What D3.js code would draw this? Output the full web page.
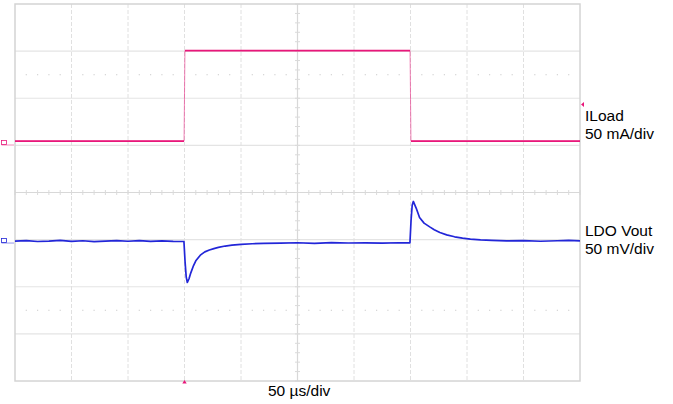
<!DOCTYPE html>
<html>
<head>
<meta charset="utf-8">
<script src="https://cdn.jsdelivr.net/npm/d3@7"></script>
<style>
  body { margin: 0; background: #fff; }
  svg { display: block; font-family: "Liberation Sans", Arial, sans-serif; }
</style>
</head>
<body>
<svg id="chart"></svg>
<script>
// time axis: 50 us/div, 10 divisions
const timeDomain = [0, 500];
const divDomain = [-4, 4];

// ILoad trace (mA), 50 mA/div
const iloadTime = [0, 149.6, 150.4, 349.6, 350.4, 500];
const iloadVal  = [2, 2, 98, 98, 2, 2];
const iloadOffsetDiv = 1.05;
const iloadPerDiv = 50;
const iloadTrigger = 41;

// LDO Vout trace (mV, ac coupled), 50 mV/div
const voutTime = [0, 10, 20, 30, 40, 50, 60, 70, 80, 90, 100, 110, 120, 130, 140, 149.5,
  150.5, 151.5, 152.5, 154, 155.5, 158, 160, 164, 168, 172, 176, 180, 186, 192, 200, 210, 220, 235, 250,
  265, 280, 295, 310, 325, 340, 349.5,
  350.5, 351.5, 352.5, 355, 358, 362, 367, 371, 376, 382, 389, 396, 403, 412, 422, 435, 450, 465, 480, 490, 500];
const voutVal = [0, 0.5, -0.5, 0, 0.8, -0.3, 0.3, -0.6, 0, 0.4, -0.2, 0.5, -0.4, 0.2, -0.3, -0.5,
  -22, -38, -44, -40, -34, -26, -21, -15, -11.5, -9.5, -8, -6.8, -5.3, -4.4, -3.5, -2.9, -2.4, -2.2, -1.8,
  -2.4, -1.6, -2.1, -1.9, -2.3, -1.8, -2,
  22, 38, 42, 35, 25, 19, 15, 12, 9, 6.5, 4.5, 3, 2, 1.2, 0.8, 0.2, 0.5, -0.2, 0.3, 0.6, 0.2];
const voutOffsetDiv = -1.03;
const voutPerDiv = 50;

const labels = [
  { lines: ["ILoad", "50 mA/div"], y: 121 },
  { lines: ["LDO Vout", "50 mV/div"], y: 235.5 }
];
const timeLabel = "50 µs/div";

const width = 673, height = 404;
const margin = { top: 4, right: 93, bottom: 23, left: 15 };

const svg = d3.select("#chart").attr("width", width).attr("height", height);

const x = d3.scaleLinear().domain(timeDomain).range([margin.left, width - margin.right]);
const y = d3.scaleLinear().domain(divDomain).range([height - margin.bottom, margin.top]);

const grid = svg.append("g");

// horizontal division lines
grid.selectAll(".hline")
    .data(d3.range(-3, 4).filter(d => d !== 0))
    .enter().append("line")
    .attr("x1", x(0)).attr("x2", x(500))
    .attr("y1", d => y(d)).attr("y2", d => y(d))
    .attr("stroke", "#e4e4e4").attr("stroke-width", 1.2);

// vertical division lines (dashed)
grid.selectAll(".vline")
    .data(d3.range(50, 500, 50).filter(d => d !== 250))
    .enter().append("line")
    .attr("x1", d => x(d)).attr("x2", d => x(d))
    .attr("y1", y(4)).attr("y2", y(-4))
    .attr("stroke", "#e0e0e0").attr("stroke-width", 1)
    .attr("stroke-dasharray", "4,2");

// dotted rows at +/-2.5 div
[2.5, -2.5].forEach(r => {
    grid.selectAll(null)
        .data(d3.range(0, 500.1, 10).filter(t => t % 50 !== 0))
        .enter().append("rect")
        .attr("x", t => x(t) - 0.6).attr("y", y(r) - 0.6)
        .attr("width", 1.2).attr("height", 1.2)
        .attr("fill", "#d4d4d4");
});

// center crosshair with minor ticks
grid.append("line")
    .attr("x1", x(0)).attr("x2", x(500)).attr("y1", y(0)).attr("y2", y(0))
    .attr("stroke", "#d8d8d8").attr("stroke-width", 1.2);
grid.append("line")
    .attr("x1", x(250)).attr("x2", x(250)).attr("y1", y(4)).attr("y2", y(-4))
    .attr("stroke", "#d8d8d8").attr("stroke-width", 1.2);
grid.selectAll(".xt")
    .data(d3.range(0, 500.1, 10))
    .enter().append("line")
    .attr("x1", d => x(d)).attr("x2", d => x(d))
    .attr("y1", y(0) - 2.5).attr("y2", y(0) + 2.5)
    .attr("stroke", "#dadada");
grid.selectAll(".yt")
    .data(d3.range(-4, 4.01, 0.2))
    .enter().append("line")
    .attr("x1", x(250) - 2.5).attr("x2", x(250) + 2.5)
    .attr("y1", d => y(d)).attr("y2", d => y(d))
    .attr("stroke", "#dadada");

// frame
grid.append("rect")
    .attr("x", x(0)).attr("y", y(4))
    .attr("width", x(500) - x(0)).attr("height", y(-4) - y(4))
    .attr("fill", "none").attr("stroke", "#d4d4d4").attr("stroke-width", 1.5);

// traces
const line = d3.line().x(d => x(d[0])).y(d => y(d[1]));

const iloadPts = iloadTime.map((t, i) => [t, iloadVal[i] / iloadPerDiv + iloadOffsetDiv]);
// fast edges drawn faint, flat levels drawn solid
svg.append("path")
    .attr("d", line(iloadPts))
    .attr("fill", "none").attr("stroke", "#e8177a").attr("stroke-width", 1)
    .attr("opacity", 0.55);
[[0, 1], [2, 3], [4, 5]].forEach(([a, b]) => {
    svg.append("path")
        .attr("d", line([iloadPts[a], iloadPts[b]]))
        .attr("fill", "none").attr("stroke", "#e8177a").attr("stroke-width", 1.7);
});

const voutPts = voutTime.map((t, i) => [t, voutVal[i] / voutPerDiv + voutOffsetDiv]);
svg.append("path")
    .attr("d", line(voutPts))
    .attr("fill", "none").attr("stroke", "#2226d8").attr("stroke-width", 1.7)
    .attr("stroke-linejoin", "round");

// channel ground markers on the left edge
function marker(offsetDiv, color) {
    const yy = y(offsetDiv);
    svg.append("rect").attr("x", 1.5).attr("y", yy - 2.5).attr("width", 5).attr("height", 4)
        .attr("fill", "none").attr("stroke", color).attr("stroke-width", 0.8);
    svg.append("line").attr("x1", 1.5).attr("x2", 14).attr("y1", yy + 2).attr("y2", yy + 2)
        .attr("stroke", color).attr("stroke-width", 0.8).attr("opacity", 0.6);
}
marker(iloadOffsetDiv, "#e8177a");
marker(voutOffsetDiv, "#2226d8");

// trigger level (right) and trigger position (bottom)
const ty = y(iloadTrigger / iloadPerDiv + iloadOffsetDiv);
svg.append("path")
    .attr("d", `M${x(500) + 1},${ty} l3,-2.5 l0,5 z`)
    .attr("fill", "#e8177a");
svg.append("path")
    .attr("d", `M${x(150)},${y(-4) - 1} l-2.2,3.5 l4.4,0 z`)
    .attr("fill", "#e8177a");

// labels
labels.forEach(l => {
    l.lines.forEach((s, i) => {
        svg.append("text")
            .attr("x", x(500) + 5).attr("y", l.y + i * 18)
            .style("font-size", "15.5px").style("fill", "#000")
            .text(s);
    });
});
svg.append("text")
    .attr("x", 268).attr("y", 396)
    .style("font-size", "15.5px").style("fill", "#000")
    .text(timeLabel);
</script>
</body>
</html>
